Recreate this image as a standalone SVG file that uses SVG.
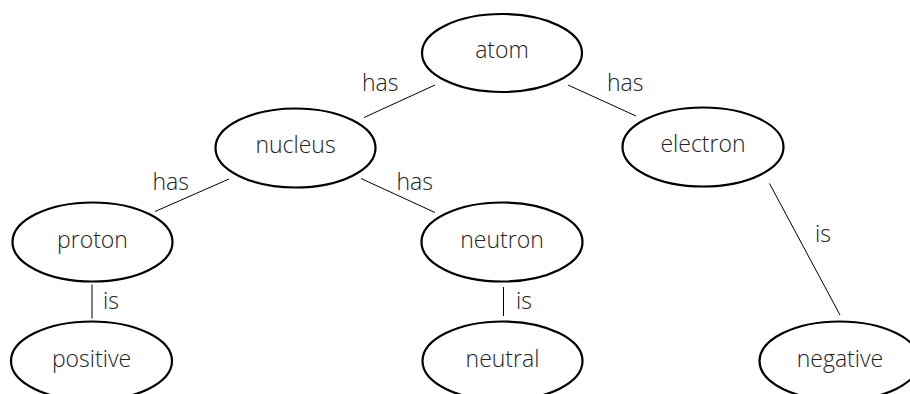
<svg xmlns="http://www.w3.org/2000/svg" width="910" height="394" viewBox="0 0 910 394">
<style>
ellipse{fill:#fff;stroke:#000;stroke-width:2.2}
text{font-family:"Open Sans","Noto Sans","Liberation Sans",sans-serif;font-size:23px;font-weight:300;fill:#222;text-anchor:middle}
.lbl{text-anchor:start}
#connectors line{stroke:#000;stroke-width:1}
</style>
<rect width="910" height="394" fill="#fff"/>
<g id="connectors">
<line x1="435" y1="85" x2="364" y2="117.5"/>
<line x1="568" y1="85" x2="636" y2="116"/>
<line x1="229" y1="179" x2="155" y2="211.5"/>
<line x1="361" y1="178.5" x2="435" y2="212.5"/>
<line x1="92" y1="284.5" x2="92" y2="318.5"/>
<line x1="503.5" y1="287" x2="503.5" y2="316"/>
<line x1="769.5" y1="183.5" x2="840" y2="315"/>
<text class="lbl" x="362" y="91">has</text>
<text class="lbl" x="607" y="91">has</text>
<text class="lbl" x="152.5" y="190">has</text>
<text class="lbl" x="396.5" y="190">has</text>
<text class="lbl" x="103" y="309">is</text>
<text class="lbl" x="516" y="309">is</text>
<text class="lbl" x="815" y="242">is</text>
</g>
<g id="atom"><ellipse cx="502" cy="53" rx="80" ry="39"/><text x="502" y="58">atom</text></g>
<g id="nucleus"><ellipse cx="295.5" cy="148" rx="80" ry="39.5"/><text x="295.5" y="153">nucleus</text></g>
<g id="electron"><ellipse cx="703" cy="147" rx="80.5" ry="39.5"/><text x="703" y="152">electron</text></g>
<g id="proton"><ellipse cx="92.5" cy="242" rx="80" ry="39.5"/><text x="92.5" y="248">proton</text></g>
<g id="neutron"><ellipse cx="502" cy="242" rx="80.5" ry="39.5"/><text x="502" y="248">neutron</text></g>
<g id="positive"><ellipse cx="91.5" cy="361" rx="80.5" ry="39.5"/><text x="91.5" y="367">positive</text></g>
<g id="neutral"><ellipse cx="502.5" cy="361" rx="80" ry="39.5"/><text x="502.5" y="367">neutral</text></g>
<g id="negative"><ellipse cx="839.5" cy="361" rx="80" ry="39.5"/><text x="840" y="367">negative</text></g>
</svg>
